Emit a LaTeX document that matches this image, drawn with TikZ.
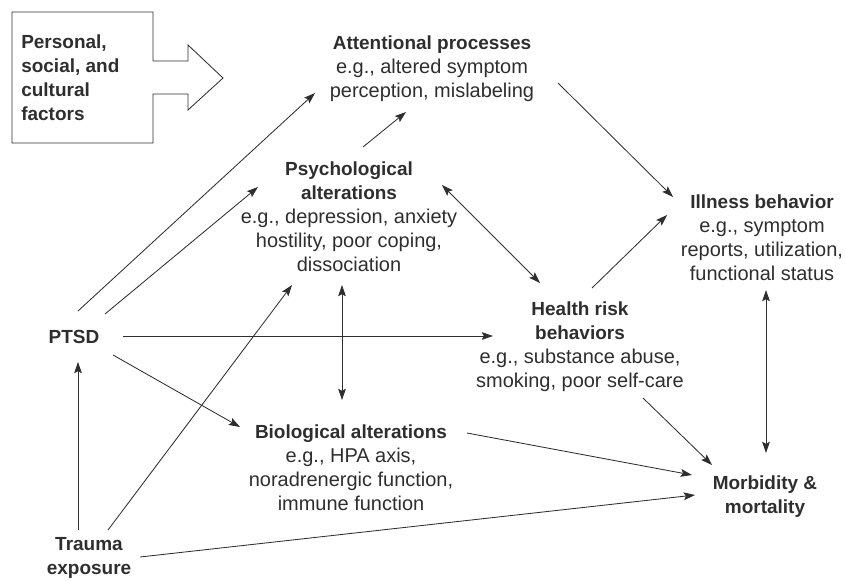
\documentclass[tikz,border=0pt]{standalone}
\usepackage{fontspec}
\setmainfont{Liberation Sans}
\usepackage{xcolor}
\usetikzlibrary{arrows.meta}
\definecolor{ink}{gray}{0.18}
\newcommand{\hd}[1]{{\fontsize{13.5}{17}\selectfont\bfseries #1}}

\begin{document}
\begin{tikzpicture}[x=0.025cm,y=-0.025cm,
  lbl/.style={align=center,inner sep=0pt,text=ink,font=\fontsize{14.2}{17}\selectfont},
  arr/.style={draw=ink,line width=0.6pt,-{Stealth[length=8pt,width=5.5pt,inset=1.5pt]}},
  darr/.style={arr,{Stealth[length=8pt,width=5.5pt,inset=1.5pt]}-{Stealth[length=8pt,width=5.5pt,inset=1.5pt]}}]
\useasboundingbox (0,0) rectangle (846,580);
% 左上角的框形箭头
\draw[ink,line width=0.6pt] (12,12) -- (153,12) -- (153,61) -- (188,61) -- (188,45)
  -- (223,78) -- (188,110) -- (188,94) -- (153,94) -- (153,143) -- (12,143) -- cycle;
\node[lbl,align=left,anchor=west] (fac) at (21,77.5)
  {\hd{Personal,}\\ \hd{social, and}\\ \hd{cultural}\\ \hd{factors}};
% 各个方块
\node[lbl] (attn) at (432,69) {\hd{Attentional processes}\\ e.g., altered symptom\\ perception, mislabeling};
\node[lbl] (psy) at (349,216.5) {\hd{Psychological}\\ \hd{alterations}\\ e.g., depression, anxiety\\ hostility, poor coping,\\ dissociation};
\node[lbl] (ill) at (762,237.5) {\hd{Illness behavior}\\ e.g., symptom\\ reports, utilization,\\ functional status};
\node[lbl] (hrb) at (580,346.5) {\hd{Health risk}\\ \hd{behaviors}\\ e.g., substance abuse,\\ smoking, poor self-care};
\node[lbl] (bio) at (351,468) {\hd{Biological alterations}\\ e.g., HPA axis,\\ noradrenergic function,\\ immune function};
\node[lbl] (mor) at (765,496.5) {\hd{Morbidity \&}\\ \hd{mortality}};
\node[lbl] (ptsd) at (74,337) {\hd{PTSD}};
\node[lbl] (trm) at (89,557.5) {\hd{Trauma}\\ \hd{exposure}};
% 从 PTSD 出发
\draw[arr] ([shift={(4,-26)}]ptsd.center) -- ([shift={(-117,24)}]attn.center);
\draw[arr] ([shift={(31,-23)}]ptsd.center) -- ([shift={(-91,-29.5)}]psy.center);
\draw[arr] ([shift={(49,-1)}]ptsd.center) -- ([shift={(-87,-10.5)}]hrb.center);
\draw[arr] ([shift={(39,18)}]ptsd.center) -- ([shift={(-111,-41)}]bio.center);
% 从 Trauma exposure 出发
\draw[arr] ([shift={(-11,-27.5)}]trm.center) -- ([shift={(4,25)}]ptsd.center);
\draw[arr] ([shift={(19,-27.5)}]trm.center) -- ([shift={(-57,68.5)}]psy.center);
\draw[arr] ([shift={(51,-0.5)}]trm.center) -- ([shift={(-70,-1.5)}]mor.center);
% 中间的连线
\draw[arr] ([shift={(14,-69.5)}]psy.center) -- ([shift={(-26,43)}]attn.center);
\draw[arr] ([shift={(126,14)}]attn.center) -- ([shift={(-89,-40.5)}]ill.center);
\draw[darr] ([shift={(93,-31.5)}]psy.center) -- ([shift={(-40,-63.5)}]hrb.center);
\draw[darr] ([shift={(-7,68.5)}]psy.center) -- ([shift={(-9,-68)}]bio.center);
\draw[arr] ([shift={(12,-58.5)}]hrb.center) -- ([shift={(-95,-22.5)}]ill.center);
\draw[arr] ([shift={(63,51.5)}]hrb.center) -- ([shift={(-53,-31.5)}]mor.center);
\draw[arr] ([shift={(116,-35)}]bio.center) -- ([shift={(-73,-21.5)}]mor.center);
\draw[darr] ([shift={(4,52.5)}]ill.center) -- ([shift={(1,-43.5)}]mor.center);
\end{tikzpicture}
\end{document}
